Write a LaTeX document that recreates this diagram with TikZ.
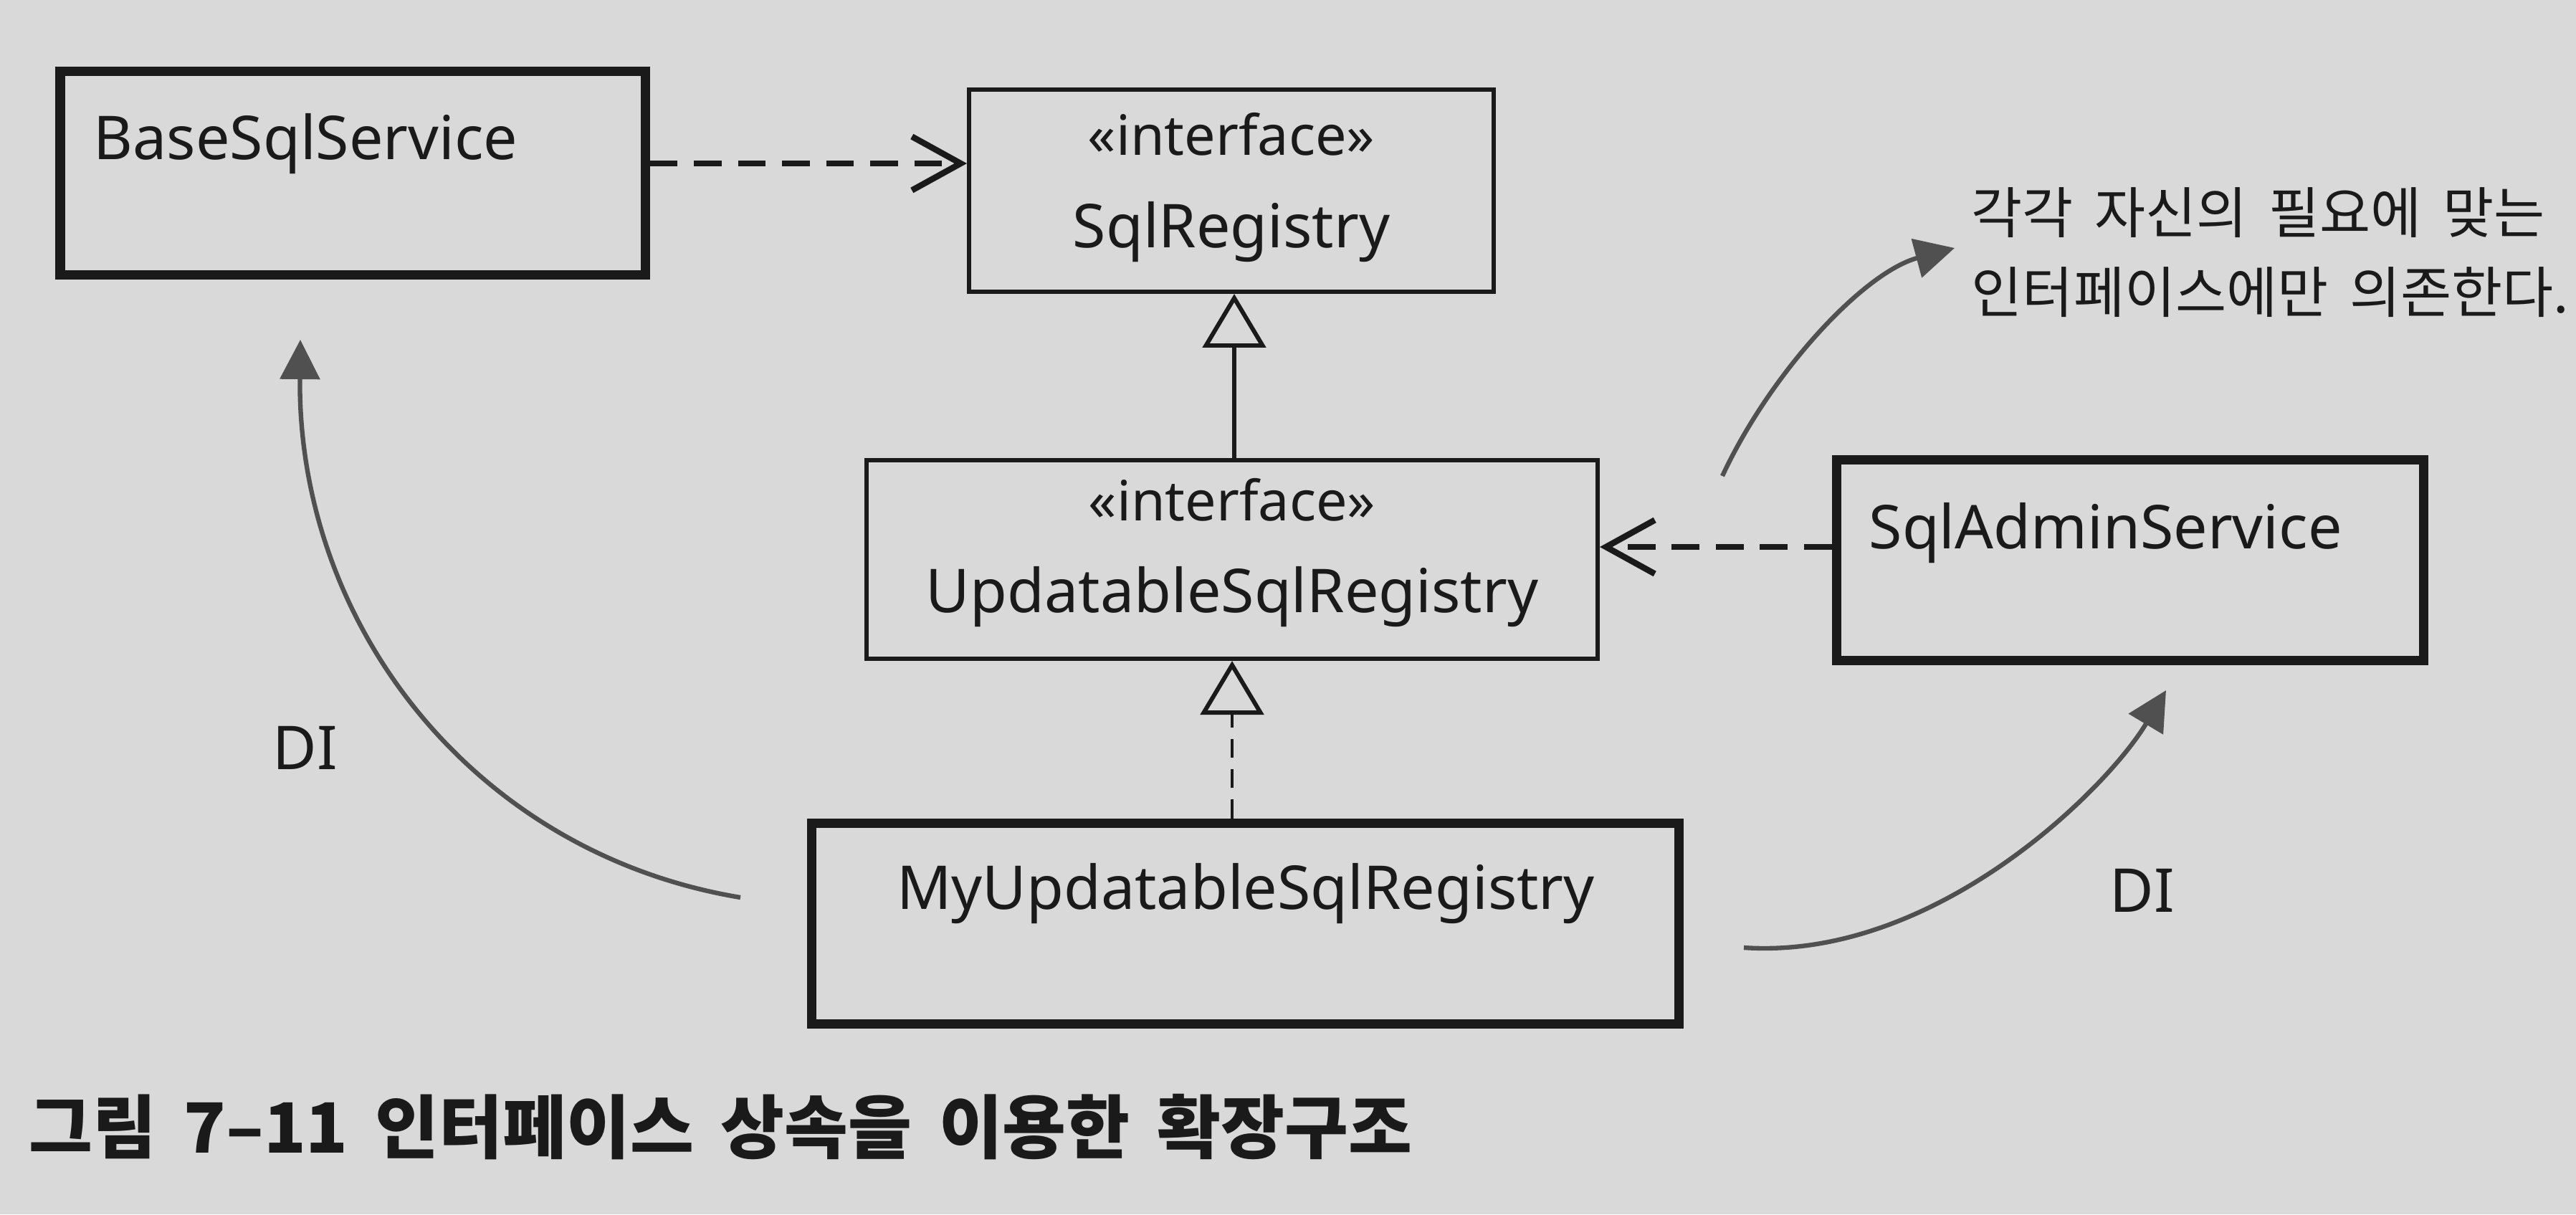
\documentclass[tikz,border=0pt]{standalone}
\usepackage{fontspec}
\setmainfont{Noto Sans}
\newfontfamily\kr[WordSpace=2.0]{Noto Sans CJK KR}
\newfontfamily\krcap[WordSpace=1.7]{Noto Sans CJK KR}
\usetikzlibrary{arrows.meta}
\definecolor{paper}{HTML}{D9D9D9}
\definecolor{ink}{HTML}{1A1A1A}
\definecolor{curvegray}{HTML}{505050}
\begin{document}
\begin{tikzpicture}[
  thinbox/.style={draw=ink, line width=1.7pt, inner sep=0pt, rectangle},
  thickbox/.style={draw=ink, line width=3.7pt, inner sep=0pt, rectangle},
  lbl/.style={inner sep=0pt, text=ink, font=\fontsize{24}{28}\selectfont},
  stereo/.style={inner sep=0pt, text=ink, font=\fontsize{22}{26}\selectfont},
  notetext/.style={inner sep=0pt, text=ink, font=\kr\fontsize{22}{30}\selectfont},
  captext/.style={inner sep=0pt, text=ink, font=\krcap\bfseries\fontsize{27.5}{32}\selectfont},
  depend/.style={draw=ink, line width=2.4pt, dash pattern=on 11pt off 6.5pt,
    -{Straight Barb[length=0.68cm, width=0.75cm]}},
  generalize/.style={draw=ink, line width=1.7pt,
    -{Triangle[open, length=0.75cm, width=0.88cm]}},
  realize/.style={draw=ink, line width=1.4pt, dash pattern=on 7.5pt off 4.5pt,
    -{Triangle[open, length=0.75cm, width=0.88cm, line width=1.7pt]}},
  curv/.style={draw=curvegray, line width=1.8pt,
    -{Triangle[length=0.55cm, width=0.55cm]}}
]
\fill[paper] (0,0) rectangle (35.94,-16.94);
\useasboundingbox (0,0) rectangle (35.94,-16.94);

% boxes
\node[thickbox, minimum width=8.16cm, minimum height=2.84cm] (base) at (4.92,-2.41) {};
\node[thinbox, minimum width=7.32cm, minimum height=2.82cm] (sqlreg) at (17.18,-2.66) {};
\node[thinbox, minimum width=10.20cm, minimum height=2.77cm] (upd) at (17.19,-7.805) {};
\node[thickbox, minimum width=8.19cm, minimum height=2.80cm] (admin) at (29.715,-7.81) {};
\node[thickbox, minimum width=12.10cm, minimum height=2.80cm] (myupd) at (17.37,-12.88) {};

% box texts
\node[lbl, anchor=base west] (baseT) at (1.30,-2.22) {BaseSqlService};
\node[stereo, anchor=base] (sqlregS) at (17.18,-2.16) {«interface»};
\node[lbl, anchor=base] (sqlregT) at (17.18,-3.45) {SqlRegistry};
\node[stereo, anchor=base] (updS) at (17.19,-7.26) {«interface»};
\node[lbl, anchor=base] (updT) at (17.19,-8.54) {UpdatableSqlRegistry};
\node[lbl, anchor=base] (myupdT) at (17.38,-12.68) {MyUpdatableSqlRegistry};
\node[lbl, anchor=base west] (adminT) at (26.07,-7.65) {SqlAdminService};

% labels
\node[lbl, anchor=base] (di1) at (4.26,-10.73) {DI};
\node[lbl, anchor=base] (di2) at (29.89,-12.72) {DI};
\node[notetext, anchor=base west] (note1) at (27.50,-3.25) {각각 자신의 필요에 맞는};
\node[notetext, anchor=base west] (note2) at (27.50,-4.36) {인터페이스에만 의존한다.};
\node[captext, anchor=base west] (caption) at (0.40,-16.08) {그림 7–11 인터페이스 상속을 이용한 확장구조};

% UML connectors
\draw[depend] ([yshift=0.13cm]base.east) -- ([yshift=0.13cm]base.east -| sqlreg.west);
\draw[depend] ([yshift=0.18cm]admin.west) -- ([yshift=0.18cm]admin.west -| upd.east);
\draw[generalize] ([xshift=0.03cm]upd.north) -- ([xshift=0.03cm]upd.north |- sqlreg.south);
\draw[realize] (myupd.north -| upd.south) -- (upd.south);

% curved arrows
\coordinate (c1s) at (10.33,-12.52);
\coordinate (c1e) at (4.19,-4.74);
\coordinate (c2s) at (24.33,-13.22);
\coordinate (c2e) at (30.22,-9.63);
\coordinate (c3s) at (24.03,-6.64);
\coordinate (c3e) at (27.27,-3.46);
\draw[curv] (c1s) .. controls (6.60,-11.90) and (4.15,-8.70) .. (c1e);
\draw[curv] (c2s) .. controls (27.00,-13.40) and (29.40,-11.00) .. (c2e);
\draw[curv] (c3s) .. controls (24.70,-5.20) and (26.00,-3.80) .. (c3e);
\end{tikzpicture}
\end{document}
